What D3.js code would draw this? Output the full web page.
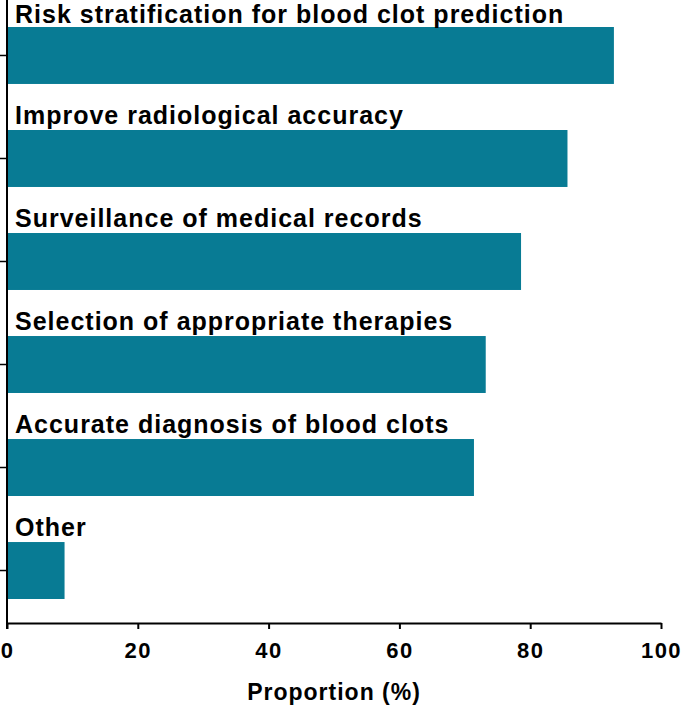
<!DOCTYPE html>
<html><head><meta charset="utf-8">
<script src="https://cdn.jsdelivr.net/npm/d3@7"></script>
<style>body{margin:0;background:#fff;}svg{display:block;}</style>
</head><body>
<script>
const categories = ["Risk stratification for blood clot prediction","Improve radiological accuracy","Surveillance of medical records","Selection of appropriate therapies","Accurate diagnosis of blood clots","Other"];
const values = [92.8, 85.7, 78.6, 73.2, 71.4, 8.8];
const xTicks = [0, 20, 40, 60, 80, 100];

const W = 685, H = 707;
const svg = d3.select("body").append("svg").attr("width", W).attr("height", H);
const font = "'Liberation Sans', Arial, sans-serif";
const x = d3.scaleLinear().domain([0, 100]).range([7, 661]);
const y = d3.scaleBand().domain(categories).range([3, 623]).paddingInner(0.447).paddingOuter(0.233);

svg.selectAll("rect.bar").data(categories).join("rect").attr("class","bar")
  .attr("x", x(0)).attr("y", d => y(d))
  .attr("width", (d,i) => x(values[i]) - x(0)).attr("height", y.bandwidth())
  .attr("fill", "#087b94");

svg.selectAll("text.lab").data(categories).join("text").attr("class","lab")
  .attr("x", 15).attr("y", d => Math.max(y(d) - 6, 23))
  .attr("font-family", font).attr("font-weight", "bold").attr("font-size", 25)
  .attr("letter-spacing", "1px")
  .attr("fill", "#000").text(d => d);

// y axis
const yAxis = d3.axisLeft(y).tickSize(7).tickFormat("").tickSizeOuter(0);
const gy = svg.append("g").attr("transform", `translate(${x(0)},0)`).call(yAxis);
gy.select(".domain").remove();
gy.selectAll(".tick line").attr("stroke", "#000").attr("stroke-width", 1.5);
svg.append("line").attr("x1", x(0)).attr("x2", x(0)).attr("y1", 0).attr("y2", 629)
  .attr("stroke", "#000").attr("stroke-width", 2);

// x axis
const xAxis = d3.axisBottom(x).tickValues(xTicks).tickSize(6).tickSizeOuter(0).tickPadding(13);
const gx = svg.append("g").attr("transform", "translate(0,623)").call(xAxis);
gx.select(".domain").attr("stroke", "#000").attr("stroke-width", 2);
gx.selectAll(".tick line").attr("stroke", "#000").attr("stroke-width", 2);
gx.selectAll(".tick text").attr("font-family", font).attr("font-weight", "bold")
  .attr("font-size", 22).attr("letter-spacing", "1.5px").attr("fill", "#000");

svg.append("text").attr("x", (x(0)+x(100))/2).attr("y", 700).attr("text-anchor", "middle")
  .attr("font-family", font).attr("font-weight", "bold").attr("font-size", 23)
  .attr("letter-spacing", "1px")
  .attr("fill", "#000").text("Proportion (%)");
</script>
</body></html>
